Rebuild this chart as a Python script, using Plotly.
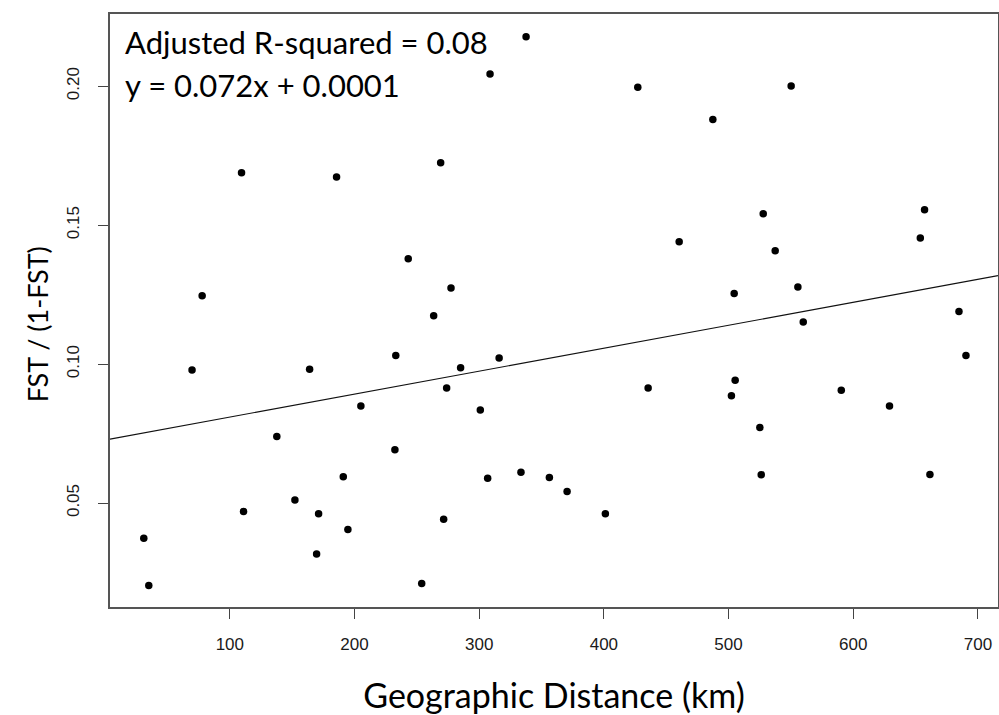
import plotly.graph_objects as go

# Geographic distance (km)
distance_km = [
    308.7, 109.4, 185.6, 269.1, 243.1, 277.4, 263.5, 77.8, 233.1, 316.0,
    337.6, 427.2, 550.2, 487.4, 527.8, 657.2, 460.4, 537.4, 653.8, 504.5,
    555.6, 559.9, 684.8, 690.4,
    69.7, 164.0, 285.1, 273.9, 205.1, 300.9, 137.7, 232.4, 191.0, 306.8,
    152.2, 111.0, 171.2, 194.7, 271.5, 31.0, 169.6, 35.0, 253.9,
    435.5, 505.3, 502.3, 590.4, 629.1, 525.1, 333.5, 356.3, 370.5, 401.2,
    526.2, 661.5,
]
# FST / (1-FST)
fst_ratio = [
    0.2044, 0.1689, 0.1673, 0.1725, 0.1379, 0.1274, 0.1174, 0.1246, 0.1031, 0.1022,
    0.2178, 0.1996, 0.2001, 0.1880, 0.1541, 0.1556, 0.1440, 0.1408, 0.1454, 0.1254,
    0.1278, 0.1152, 0.1189, 0.1031,
    0.0979, 0.0982, 0.0987, 0.0914, 0.0849, 0.0835, 0.0740, 0.0692, 0.0595, 0.0589,
    0.0511, 0.0470, 0.0462, 0.0405, 0.0442, 0.0373, 0.0317, 0.0203, 0.0211,
    0.0914, 0.0942, 0.0886, 0.0906, 0.0849, 0.0772, 0.0611, 0.0592, 0.0542, 0.0462,
    0.0602, 0.0603,
]

# Fitted line as drawn
fit_intercept = 0.0727
fit_slope = 0.0000826

x_ticks = [100, 200, 300, 400, 500, 600, 700]
y_ticks = [0.05, 0.10, 0.15, 0.20]
y_tick_labels = ["0.05", "0.10", "0.15", "0.20"]

annotation_lines = ["Adjusted R-squared = 0.08", "y = 0.072x + 0.0001"]
x_title = "Geographic Distance (km)"
y_title = "FST / (1-FST)"

x_range = [3.9, 716.1]
y_range = [0.0126, 0.226]

fig = go.Figure()
fig.add_trace(go.Scatter(
    x=x_range,
    y=[fit_intercept + fit_slope * v for v in x_range],
    mode="lines", line=dict(color="#111111", width=1.1),
    hoverinfo="skip", showlegend=False,
))
fig.add_trace(go.Scatter(
    x=distance_km, y=fst_ratio, mode="markers",
    marker=dict(color="black", size=7.5),
    showlegend=False,
))

tick_font = dict(family="Liberation Sans, Arial, sans-serif", size=17, color="#1a1a1a")

fig.update_layout(
    width=999, height=715,
    margin=dict(l=110, r=1, t=14, b=108),
    paper_bgcolor="white", plot_bgcolor="white",
    xaxis=dict(
        range=x_range, tickvals=x_ticks, ticks="outside", ticklen=10,
        tickcolor="#444", tickwidth=1.3, automargin=False, ticklabelstandoff=11,
        showline=True, mirror=True, linecolor="#555", linewidth=1.6,
        showgrid=False, zeroline=False, tickfont=tick_font,
        title=dict(text=x_title,
                   font=dict(family="Lato, sans-serif", size=34, color="black"),
                   standoff=32),
    ),
    yaxis=dict(
        range=y_range, tickvals=y_ticks, ticktext=y_tick_labels,
        ticks="outside", ticklen=10, tickcolor="#444", tickwidth=1.3,
        tickangle=-90, ticklabelstandoff=12, automargin=False,
        showline=True, mirror=True, linecolor="#555", linewidth=1.6,
        showgrid=False, zeroline=False, tickfont=tick_font,
    ),
)

fig.add_annotation(
    text=y_title, xref="paper", yref="paper",
    x=-0.082, y=0.477, xanchor="center", yanchor="middle", textangle=-90,
    showarrow=False, font=dict(family="Lato, sans-serif", size=27, color="black"),
)

for i, txt in enumerate(annotation_lines):
    fig.add_annotation(
        text=txt, xref="paper", yref="paper",
        x=0.0146, y=0.9533 - i * 0.073, xanchor="left", yanchor="middle",
        showarrow=False, font=dict(family="Lato, sans-serif", size=31, color="black"),
    )

# remove the default page margin so the figure fills the window exactly
fig.write_html(
    "out.html",
    config={"displayModeBar": False},
    post_script="document.body.style.margin='0';document.body.style.overflow='hidden';",
)
